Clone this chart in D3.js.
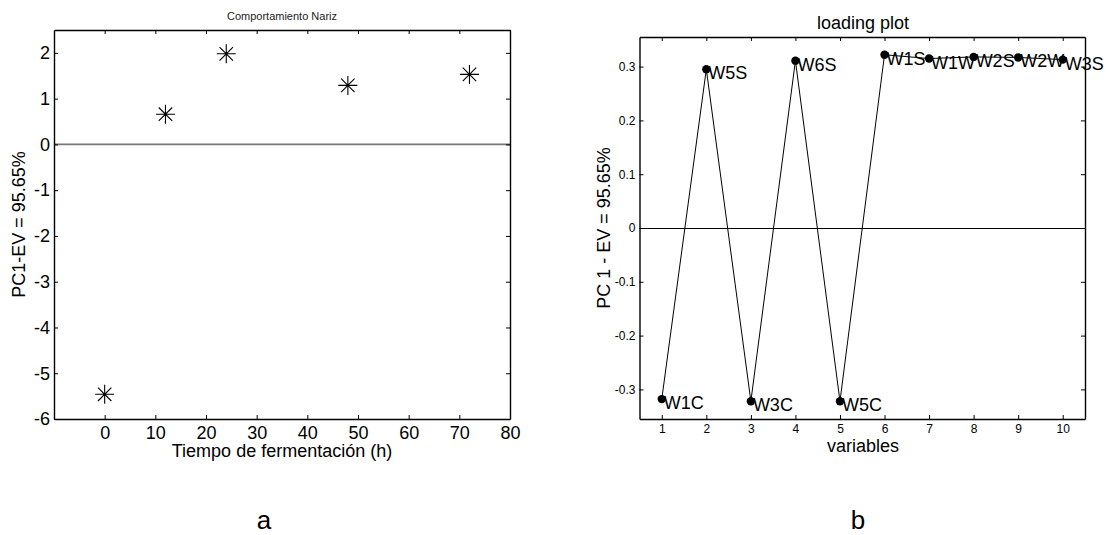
<!DOCTYPE html>
<html>
<head>
<meta charset="utf-8">
<script src="https://cdn.jsdelivr.net/npm/d3@7"></script>
<style>
  body { margin: 0; background: #fff; }
  svg { font-family: "Liberation Sans", Arial, sans-serif; }
  .axis path.domain { stroke: #000; stroke-width: 1.4; }
  .axis .tick line { stroke: #000; }
</style>
</head>
<body>
<svg id="chart" width="1113" height="535"></svg>
<script>
// panel a: PC1 score over fermentation time
const fermTime = [0, 12, 24, 48, 72];
const pc1Scores = [-5.46, 0.66, 1.98, 1.29, 1.53];
const timeTicks = [0, 10, 20, 30, 40, 50, 60, 70, 80];
const scoreTicks = [-6, -5, -4, -3, -2, -1, 0, 1, 2];

// panel b: loading plot
const variableIdx = [1, 2, 3, 4, 5, 6, 7, 8, 9, 10];
const sensorNames = ['W1C', 'W5S', 'W3C', 'W6S', 'W5C', 'W1S', 'W1W', 'W2S', 'W2W', 'W3S'];
const loadings = [-0.318, 0.295, -0.322, 0.311, -0.322, 0.322, 0.315, 0.318, 0.317, 0.313];
const loadingTicks = [-0.3, -0.2, -0.1, 0, 0.1, 0.2, 0.3];

const svg = d3.select('#chart');

// matlab prints plain hyphen minus, not the unicode one d3 uses
const plain = v => String(+v.toFixed(4));

// draws a boxed MATLAB-style frame with inward ticks on all four sides
function drawFrame(g, x, y, xTicks, yTicks, fontSize, padX, padY) {
  const [x0, x1] = x.range();
  const [y0, y1] = y.range(); // y0 = bottom

  const bottom = g.append('g')
      .attr('class', 'axis')
      .attr('transform', `translate(0,${y0})`)
      .call(d3.axisBottom(x).tickValues(xTicks).tickFormat(plain)
        .tickSize(-4).tickSizeOuter(0).tickPadding(padX));
  const left = g.append('g')
      .attr('class', 'axis')
      .attr('transform', `translate(${x0},0)`)
      .call(d3.axisLeft(y).tickValues(yTicks).tickFormat(plain)
        .tickSize(-4).tickSizeOuter(0).tickPadding(padY));
  g.append('g')
      .attr('class', 'axis')
      .attr('transform', `translate(0,${y1})`)
      .call(d3.axisTop(x).tickValues(xTicks).tickSize(-4).tickSizeOuter(0).tickFormat(''));
  g.append('g')
      .attr('class', 'axis')
      .attr('transform', `translate(${x1},0)`)
      .call(d3.axisRight(y).tickValues(yTicks).tickSize(-4).tickSizeOuter(0).tickFormat(''));

  [bottom, left].forEach(a => a
      .attr('font-size', fontSize)
      .attr('font-family', '"Liberation Sans", Arial, sans-serif'));
  return {bottom, left};
}

// ---------- panel a ----------
const xA = d3.scaleLinear().domain([-10, 80]).range([54, 510]);
const yA = d3.scaleLinear().domain([-6, 2.5]).range([419, 30]);
const gA = svg.append('g');

// zero reference line
gA.append('line')
    .attr('x1', xA.range()[0]).attr('x2', xA.range()[1])
    .attr('y1', yA(0)).attr('y2', yA(0))
    .attr('stroke', '#777').attr('stroke-width', 1.6);

drawFrame(gA, xA, yA, timeTicks, scoreTicks, 18, 7, 4);

const r = 9.5, d = r * Math.SQRT1_2;
const star = `M${-r},0H${r}M0,${-r}V${r}M${-d},${-d}L${d},${d}M${-d},${d}L${d},${-d}`;
gA.selectAll('.star')
    .data(fermTime.map((t, i) => ({t, v: pc1Scores[i]})))
  .join('path')
    .attr('class', 'star')
    .attr('transform', p => `translate(${xA(p.t)},${yA(p.v)})`)
    .attr('d', star)
    .attr('stroke', '#000')
    .attr('stroke-width', 1.1)
    .attr('fill', 'none');

gA.append('text')
    .attr('x', 282).attr('y', 19.5)
    .attr('text-anchor', 'middle')
    .attr('font-size', 11)
    .attr('fill', '#222')
    .text('Comportamiento Nariz');

gA.append('text')
    .attr('x', 282).attr('y', 457)
    .attr('text-anchor', 'middle')
    .attr('font-size', 18)
    .text('Tiempo de fermentación (h)');

gA.append('text')
    .attr('transform', `translate(25,${(30 + 419) / 2}) rotate(-90)`)
    .attr('text-anchor', 'middle')
    .attr('font-size', 18)
    .text('PC1-EV = 95.65%');

gA.append('text')
    .attr('x', 264).attr('y', 529)
    .attr('text-anchor', 'middle')
    .attr('font-size', 26)
    .text('a');

// ---------- panel b ----------
const xB = d3.scaleLinear().domain([0.5, 10.5]).range([639.5, 1085]);
const yB = d3.scaleLinear().domain([-0.355, 0.355]).range([419, 37]);
const gB = svg.append('g');

gB.append('line')
    .attr('x1', xB.range()[0]).attr('x2', xB.range()[1])
    .attr('y1', yB(0) + 0.5).attr('y2', yB(0) + 0.5)
    .attr('stroke', '#000').attr('stroke-width', 1);

drawFrame(gB, xB, yB, variableIdx, loadingTicks, 12, 5, 4);

const pts = variableIdx.map((v, i) => ({v, w: loadings[i], name: sensorNames[i]}));

gB.append('path')
    .datum(pts)
    .attr('fill', 'none')
    .attr('stroke', '#000')
    .attr('stroke-width', 1)
    .attr('d', d3.line().x(p => xB(p.v)).y(p => yB(p.w)));

gB.selectAll('.dot')
    .data(pts)
  .join('circle')
    .attr('class', 'dot')
    .attr('cx', p => xB(p.v))
    .attr('cy', p => yB(p.w))
    .attr('r', 4.2)
    .attr('fill', '#000');

gB.selectAll('.lbl')
    .data(pts)
  .join('text')
    .attr('class', 'lbl')
    .attr('x', p => xB(p.v) + 2)
    .attr('y', p => yB(p.w) + 10)
    .attr('font-size', 18)
    .text(p => p.name);

gB.append('text')
    .attr('x', 863).attr('y', 29)
    .attr('text-anchor', 'middle')
    .attr('font-size', 18)
    .text('loading plot');

gB.append('text')
    .attr('x', 863).attr('y', 452)
    .attr('text-anchor', 'middle')
    .attr('font-size', 18)
    .text('variables');

gB.append('text')
    .attr('transform', `translate(610,${(37 + 419) / 2}) rotate(-90)`)
    .attr('text-anchor', 'middle')
    .attr('font-size', 18)
    .text('PC 1 - EV = 95.65%');

gB.append('text')
    .attr('x', 858).attr('y', 529)
    .attr('text-anchor', 'middle')
    .attr('font-size', 26)
    .text('b');
</script>
</body>
</html>
